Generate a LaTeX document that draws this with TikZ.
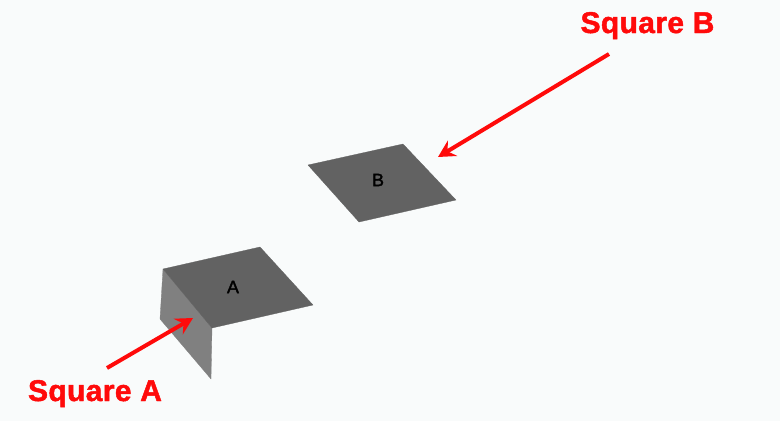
\documentclass[tikz,border=0pt]{standalone}
\usepackage{fontspec}
\setmainfont{Liberation Sans}
\newfontfamily\calloutfont{Liberation Sans}[BoldFeatures={FakeBold=1.5,LetterSpace=1.2}]
\newfontfamily\facefont{Liberation Sans}[FakeBold=2]
\usepackage{xcolor}
\usetikzlibrary{
    arrows.meta,
    calc
}
\definecolor{paper}{HTML}{F9FBFB}
\definecolor{topgray}{HTML}{626262}
\definecolor{flapgray}{HTML}{808080}
\definecolor{callout}{HTML}{FF0A0A}
\tikzset{
    topface/.style={fill=topgray, draw=topgray, line width=0.3pt, line join=round},
    flapface/.style={fill=flapgray, draw=flapgray, line width=0.3pt, line join=round},
    callouttext/.style={text=callout, font=\fontsize{30}{32}\calloutfont\bfseries, inner sep=0pt, anchor=base},
    squaretext/.style={text=black, font=\fontsize{18}{19}\facefont, inner sep=0pt},
    calloutarrow/.style={draw=callout, line width=4pt, -{Stealth[length=17pt, width=18pt, inset=6pt]}}
}

\begin{document}
\begin{tikzpicture}[x=1pt, y=-1pt]
    \useasboundingbox[fill=paper] (0, 0) rectangle (780, 421);
    % flap under square A
    \fill[flapface] (163, 269) -- (160, 319) -- (211, 379) -- (212, 328) -- cycle;
    \fill[topface] (163, 269) -- (260, 247) -- (313, 305) -- (212, 328) -- cycle;
    % square B
    \fill[topface] (308, 165) -- (403, 144) -- (456, 200) -- (359, 222) -- cycle;
    \node[squaretext] (letterA) at (233, 287) {A};
    \node[squaretext] (letterB) at (378, 180) {B};
    \node[callouttext] (labelA) at (95, 401) {Square A};
    \node[callouttext] (labelB) at (647.5, 33) {Square B};
    \coordinate (tailA) at (107, 368);
    \coordinate (headA) at (193, 318);
    \coordinate (tailB) at (609, 54);
    \coordinate (headB) at (438, 157);
    \draw[calloutarrow] (tailA) -- (headA);
    \draw[calloutarrow] (tailB) -- (headB);
\end{tikzpicture}
\end{document}
